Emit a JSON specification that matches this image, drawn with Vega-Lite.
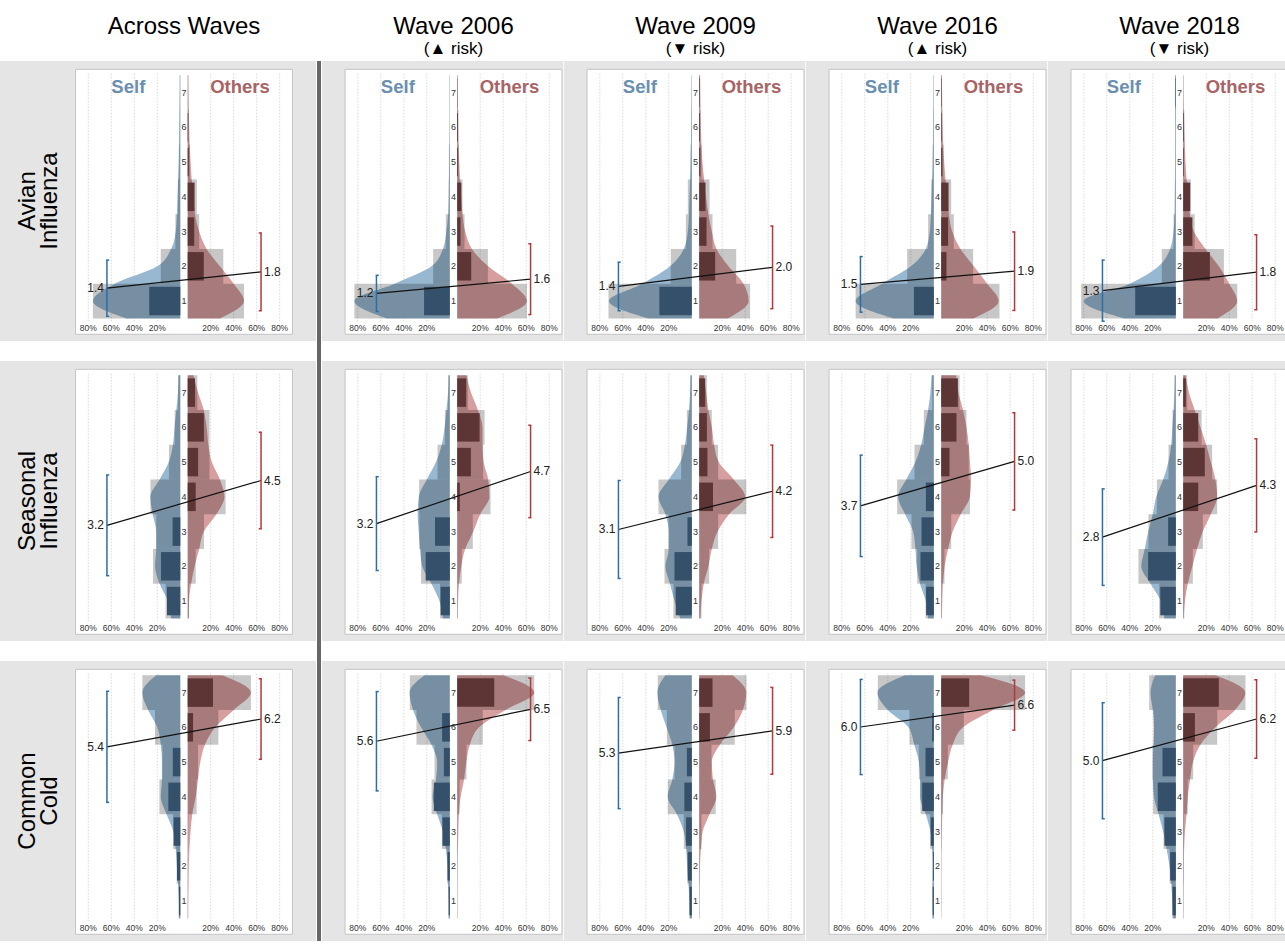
{
"$schema":"https://vega.github.io/schema/vega-lite/v6.json",
"padding":{"top":15,"left":0,"right":0,"bottom":0},
"background":"#ffffff",
"spacing":0,
"config":{"view":{"fill":"#e5e5e5","stroke":null},"font":"Liberation Sans","title":{"fontSize":24,"subtitleFontSize":17,"fontWeight":"normal","anchor":"middle","frame":"group","offset":4,"subtitlePadding":2,"font":"Liberation Sans","subtitleFont":"Liberation Sans","color":"#000000","subtitleColor":"#000000"},"text":{"font":"Liberation Sans"}},
"datasets":{"main":[
{"w":"X","d":"A","k":"m","ms":1.37,"ss":0.81,"mo":1.84,"so":1.12,"lab":"Avian|Influenza"},
{"w":"X","d":"S","k":"m","ms":3.18,"ss":1.45,"mo":4.47,"so":1.39,"lab":"Seasonal|Influenza"},
{"w":"X","d":"C","k":"m","ms":5.44,"ss":1.6,"mo":6.24,"so":1.16,"lab":"Common|Cold"},
{"w":"06","d":"A","k":"m","ms":1.22,"ss":0.52,"mo":1.63,"so":1.02},
{"w":"06","d":"S","k":"m","ms":3.23,"ss":1.35,"mo":4.73,"so":1.33},
{"w":"06","d":"C","k":"m","ms":5.6,"ss":1.43,"mo":6.52,"so":0.9},
{"w":"09","d":"A","k":"m","ms":1.42,"ss":0.7,"mo":1.97,"so":1.19},
{"w":"09","d":"S","k":"m","ms":3.06,"ss":1.41,"mo":4.16,"so":1.33},
{"w":"09","d":"C","k":"m","ms":5.26,"ss":1.6,"mo":5.9,"so":1.25},
{"w":"16","d":"A","k":"m","ms":1.48,"ss":0.8,"mo":1.86,"so":1.13},
{"w":"16","d":"S","k":"m","ms":3.74,"ss":1.46,"mo":5.02,"so":1.4},
{"w":"16","d":"C","k":"m","ms":6.01,"ss":1.37,"mo":6.64,"so":0.72},
{"w":"18","d":"A","k":"m","ms":1.3,"ss":0.88,"mo":1.83,"so":1.08},
{"w":"18","d":"S","k":"m","ms":2.84,"ss":1.39,"mo":4.33,"so":1.34},
{"w":"18","d":"C","k":"m","ms":5.04,"ss":1.67,"mo":6.24,"so":1.13},

{"w":"X","d":"A","k":"b","r":1,"sg":76,"og":49,"sd":27,"od":0},
{"w":"X","d":"A","k":"b","r":2,"sg":17,"og":31,"sd":0,"od":14},
{"w":"X","d":"A","k":"b","r":3,"sg":4.3,"og":10,"sd":0,"od":5.7},
{"w":"X","d":"A","k":"b","r":4,"sg":2,"og":8,"sd":0,"od":6},
{"w":"X","d":"A","k":"b","r":5,"sg":1,"og":2,"sd":0,"od":1},
{"w":"X","d":"A","k":"b","r":6,"sg":0.5,"og":1,"sd":0,"od":0.5},
{"w":"X","d":"A","k":"b","r":7,"sg":0.5,"og":0.5,"sd":0,"od":0},
{"w":"06","d":"A","k":"b","r":1,"sg":83,"og":60.6,"sd":22.4,"od":0},
{"w":"06","d":"A","k":"b","r":2,"sg":14.5,"og":26.7,"sd":0,"od":12.2},
{"w":"06","d":"A","k":"b","r":3,"sg":3.5,"og":6.4,"sd":0,"od":2.9},
{"w":"06","d":"A","k":"b","r":4,"sg":1,"og":4.6,"sd":0,"od":3.6},
{"w":"06","d":"A","k":"b","r":5,"sg":0.8,"og":1.5,"sd":0,"od":0.7},
{"w":"06","d":"A","k":"b","r":6,"sg":0.3,"og":1,"sd":0,"od":0.7},
{"w":"06","d":"A","k":"b","r":7,"sg":0.3,"og":0.5,"sd":0,"od":0.2},
{"w":"09","d":"A","k":"b","r":1,"sg":72.5,"og":44.3,"sd":28.2,"od":0},
{"w":"09","d":"A","k":"b","r":2,"sg":18.3,"og":32.2,"sd":0,"od":13.9},
{"w":"09","d":"A","k":"b","r":3,"sg":5.2,"og":11.6,"sd":0,"od":6.4},
{"w":"09","d":"A","k":"b","r":4,"sg":3.5,"og":9,"sd":0,"od":5.5},
{"w":"09","d":"A","k":"b","r":5,"sg":1,"og":2,"sd":0,"od":1},
{"w":"09","d":"A","k":"b","r":6,"sg":0.5,"og":1.2,"sd":0,"od":0.7},
{"w":"09","d":"A","k":"b","r":7,"sg":0.3,"og":0.8,"sd":0,"od":0.5},
{"w":"16","d":"A","k":"b","r":1,"sg":68,"og":50.7,"sd":17.3,"od":0},
{"w":"16","d":"A","k":"b","r":2,"sg":23.2,"og":27.8,"sd":0,"od":4.6},
{"w":"16","d":"A","k":"b","r":3,"sg":5,"og":11,"sd":0,"od":6},
{"w":"16","d":"A","k":"b","r":4,"sg":2.3,"og":8.7,"sd":0,"od":6.4},
{"w":"16","d":"A","k":"b","r":5,"sg":1,"og":2,"sd":0,"od":1},
{"w":"16","d":"A","k":"b","r":6,"sg":0.5,"og":1,"sd":0,"od":0.5},
{"w":"16","d":"A","k":"b","r":7,"sg":0.3,"og":0.7,"sd":0,"od":0.4},
{"w":"18","d":"A","k":"b","r":1,"sg":82.3,"og":47,"sd":35.3,"od":0},
{"w":"18","d":"A","k":"b","r":2,"sg":12.2,"og":35.4,"sd":0,"od":23.2},
{"w":"18","d":"A","k":"b","r":3,"sg":2,"og":10,"sd":0,"od":8},
{"w":"18","d":"A","k":"b","r":4,"sg":0.6,"og":6.7,"sd":0,"od":6.1},
{"w":"18","d":"A","k":"b","r":5,"sg":0.4,"og":1,"sd":0,"od":0.6},
{"w":"18","d":"A","k":"b","r":6,"sg":0.4,"og":1,"sd":0,"od":0.6},
{"w":"18","d":"A","k":"b","r":7,"sg":0.6,"og":0.2,"sd":0.4,"od":0},
{"w":"X","d":"S","k":"b","r":1,"sg":12.8,"og":1.2,"sd":11.6,"od":0},
{"w":"X","d":"S","k":"b","r":2,"sg":23.8,"og":7,"sd":16.8,"od":0},
{"w":"X","d":"S","k":"b","r":3,"sg":20.9,"og":14.2,"sd":6.7,"od":0},
{"w":"X","d":"S","k":"b","r":4,"sg":26,"og":33,"sd":0,"od":7},
{"w":"X","d":"S","k":"b","r":5,"sg":9.9,"og":19,"sd":0,"od":9.1},
{"w":"X","d":"S","k":"b","r":6,"sg":4.9,"og":19,"sd":0,"od":14.1},
{"w":"X","d":"S","k":"b","r":7,"sg":2,"og":8.4,"sd":0,"od":6.4},
{"w":"06","d":"S","k":"b","r":1,"sg":8.5,"og":0.5,"sd":8,"od":0},
{"w":"06","d":"S","k":"b","r":2,"sg":25,"og":4,"sd":21,"od":0},
{"w":"06","d":"S","k":"b","r":3,"sg":26.5,"og":13.6,"sd":12.9,"od":0},
{"w":"06","d":"S","k":"b","r":4,"sg":26.7,"og":29,"sd":0,"od":2.3},
{"w":"06","d":"S","k":"b","r":5,"sg":10.7,"og":22.6,"sd":0,"od":11.9},
{"w":"06","d":"S","k":"b","r":6,"sg":4.3,"og":23.8,"sd":0,"od":19.5},
{"w":"06","d":"S","k":"b","r":7,"sg":1.5,"og":9.3,"sd":0,"od":7.8},
{"w":"09","d":"S","k":"b","r":1,"sg":16,"og":2,"sd":14,"od":0},
{"w":"09","d":"S","k":"b","r":2,"sg":23.8,"og":8.7,"sd":15.1,"od":0},
{"w":"09","d":"S","k":"b","r":3,"sg":20.3,"og":16.5,"sd":3.8,"od":0},
{"w":"09","d":"S","k":"b","r":4,"sg":29,"og":41,"sd":0,"od":12},
{"w":"09","d":"S","k":"b","r":5,"sg":9.3,"og":16.5,"sd":0,"od":7.2},
{"w":"09","d":"S","k":"b","r":6,"sg":4.3,"og":11,"sd":0,"od":6.7},
{"w":"09","d":"S","k":"b","r":7,"sg":1.5,"og":6.7,"sd":0,"od":5.2},
{"w":"16","d":"S","k":"b","r":1,"sg":7.2,"og":0.5,"sd":6.7,"od":0},
{"w":"16","d":"S","k":"b","r":2,"sg":14.5,"og":2.9,"sd":11.6,"od":0},
{"w":"16","d":"S","k":"b","r":3,"sg":19.4,"og":8.7,"sd":10.7,"od":0},
{"w":"16","d":"S","k":"b","r":4,"sg":31.9,"og":25,"sd":6.9,"od":0},
{"w":"16","d":"S","k":"b","r":5,"sg":16.8,"og":24,"sd":0,"od":7.2},
{"w":"16","d":"S","k":"b","r":6,"sg":8.7,"og":22,"sd":0,"od":13.3},
{"w":"16","d":"S","k":"b","r":7,"sg":1.5,"og":16,"sd":0,"od":14.5},
{"w":"18","d":"S","k":"b","r":1,"sg":14.5,"og":1,"sd":13.5,"od":0},
{"w":"18","d":"S","k":"b","r":2,"sg":32.5,"og":8.4,"sd":24.1,"od":0},
{"w":"18","d":"S","k":"b","r":3,"sg":23.8,"og":17.1,"sd":6.7,"od":0},
{"w":"18","d":"S","k":"b","r":4,"sg":16.5,"og":29.6,"sd":0,"od":13.1},
{"w":"18","d":"S","k":"b","r":5,"sg":6.4,"og":25.2,"sd":0,"od":18.8},
{"w":"18","d":"S","k":"b","r":6,"sg":2.9,"og":16,"sd":0,"od":13.1},
{"w":"18","d":"S","k":"b","r":7,"sg":1.2,"og":3.5,"sd":0,"od":2.3},
{"w":"X","d":"C","k":"b","r":1,"sg":1.5,"og":0.3,"sd":1.2,"od":0},
{"w":"X","d":"C","k":"b","r":2,"sg":3.2,"og":0.3,"sd":2.9,"od":0},
{"w":"X","d":"C","k":"b","r":3,"sg":6.3,"og":0.5,"sd":5.8,"od":0},
{"w":"X","d":"C","k":"b","r":4,"sg":18.2,"og":7.8,"sd":10.4,"od":0},
{"w":"X","d":"C","k":"b","r":5,"sg":15.5,"og":9,"sd":6.5,"od":0},
{"w":"X","d":"C","k":"b","r":6,"sg":22,"og":26.7,"sd":0,"od":4.7},
{"w":"X","d":"C","k":"b","r":7,"sg":33,"og":55,"sd":0,"od":22},
{"w":"06","d":"C","k":"b","r":1,"sg":1.3,"og":0.3,"sd":1,"od":0},
{"w":"06","d":"C","k":"b","r":2,"sg":2.3,"og":0.3,"sd":2,"od":0},
{"w":"06","d":"C","k":"b","r":3,"sg":6.9,"og":0.5,"sd":6.4,"od":0},
{"w":"06","d":"C","k":"b","r":4,"sg":15.9,"og":2,"sd":13.9,"od":0},
{"w":"06","d":"C","k":"b","r":5,"sg":13.3,"og":8.1,"sd":5.2,"od":0},
{"w":"06","d":"C","k":"b","r":6,"sg":29,"og":22.3,"sd":6.7,"od":0},
{"w":"06","d":"C","k":"b","r":7,"sg":34.8,"og":67,"sd":0,"od":32.2},
{"w":"09","d":"C","k":"b","r":1,"sg":2.3,"og":0.3,"sd":2,"od":0},
{"w":"09","d":"C","k":"b","r":2,"sg":4,"og":0.5,"sd":3.5,"od":0},
{"w":"09","d":"C","k":"b","r":3,"sg":7,"og":2,"sd":5,"od":0},
{"w":"09","d":"C","k":"b","r":4,"sg":20.9,"og":14.4,"sd":6.5,"od":0},
{"w":"09","d":"C","k":"b","r":5,"sg":15,"og":10.7,"sd":4.3,"od":0},
{"w":"09","d":"C","k":"b","r":6,"sg":21.7,"og":31,"sd":0,"od":9.3},
{"w":"09","d":"C","k":"b","r":7,"sg":29.6,"og":41.2,"sd":0,"od":11.6},
{"w":"16","d":"C","k":"b","r":1,"sg":1.2,"og":0.2,"sd":1,"od":0},
{"w":"16","d":"C","k":"b","r":2,"sg":1,"og":0.2,"sd":0.8,"od":0},
{"w":"16","d":"C","k":"b","r":3,"sg":3.2,"og":0.5,"sd":2.7,"od":0},
{"w":"16","d":"C","k":"b","r":4,"sg":11.6,"og":1.5,"sd":10.1,"od":0},
{"w":"16","d":"C","k":"b","r":5,"sg":13,"og":5.8,"sd":7.2,"od":0},
{"w":"16","d":"C","k":"b","r":6,"sg":21.2,"og":19.7,"sd":1.5,"od":0},
{"w":"16","d":"C","k":"b","r":7,"sg":48.7,"og":73,"sd":0,"od":24.3},
{"w":"18","d":"C","k":"b","r":1,"sg":3.2,"og":0.3,"sd":2.9,"od":0},
{"w":"18","d":"C","k":"b","r":2,"sg":5.4,"og":0.5,"sd":4.9,"od":0},
{"w":"18","d":"C","k":"b","r":3,"sg":10.7,"og":0.8,"sd":9.9,"od":0},
{"w":"18","d":"C","k":"b","r":4,"sg":19.7,"og":4,"sd":15.7,"od":0},
{"w":"18","d":"C","k":"b","r":5,"sg":20.3,"og":8.7,"sd":11.6,"od":0},
{"w":"18","d":"C","k":"b","r":6,"sg":19.4,"og":29.6,"sd":0,"od":10.2},
{"w":"18","d":"C","k":"b","r":7,"sg":23.2,"og":54.2,"sd":0,"od":31},

{"w":"X","d":"A","k":"n","y":0.5,"s":47,"o":28},{"w":"X","d":"A","k":"n","y":1,"s":76,"o":49},{"w":"X","d":"A","k":"n","y":1.5,"s":57,"o":40},{"w":"X","d":"A","k":"n","y":2,"s":20,"o":28},{"w":"X","d":"A","k":"n","y":2.5,"s":8,"o":16.5},{"w":"X","d":"A","k":"n","y":3,"s":4,"o":10},{"w":"X","d":"A","k":"n","y":3.5,"s":3,"o":6.4},{"w":"X","d":"A","k":"n","y":4,"s":2.5,"o":5},{"w":"X","d":"A","k":"n","y":4.5,"s":2,"o":3.5},{"w":"X","d":"A","k":"n","y":5,"s":1.5,"o":2.5},{"w":"X","d":"A","k":"n","y":5.5,"s":1.2,"o":1.8},{"w":"X","d":"A","k":"n","y":6,"s":1,"o":1.3},{"w":"X","d":"A","k":"n","y":6.5,"s":0.8,"o":1},{"w":"X","d":"A","k":"n","y":7,"s":0.6,"o":0.8},{"w":"X","d":"A","k":"n","y":7.5,"s":0.5,"o":0.6},
{"w":"06","d":"A","k":"n","y":0.5,"s":55,"o":35},{"w":"06","d":"A","k":"n","y":1,"s":83,"o":60.6},{"w":"06","d":"A","k":"n","y":1.5,"s":48,"o":47.5},{"w":"06","d":"A","k":"n","y":2,"s":16,"o":27},{"w":"06","d":"A","k":"n","y":2.5,"s":6,"o":12.8},{"w":"06","d":"A","k":"n","y":3,"s":3,"o":7},{"w":"06","d":"A","k":"n","y":3.5,"s":1.5,"o":4.6},{"w":"06","d":"A","k":"n","y":4,"s":1,"o":3.5},{"w":"06","d":"A","k":"n","y":4.5,"s":0.8,"o":2.5},{"w":"06","d":"A","k":"n","y":5,"s":0.6,"o":1.8},{"w":"06","d":"A","k":"n","y":5.5,"s":0.5,"o":1.2},{"w":"06","d":"A","k":"n","y":6,"s":0.3,"o":1},{"w":"06","d":"A","k":"n","y":6.5,"s":0.3,"o":0.8},{"w":"06","d":"A","k":"n","y":7,"s":0.3,"o":0.6},{"w":"06","d":"A","k":"n","y":7.5,"s":0.3,"o":0.5},
{"w":"09","d":"A","k":"n","y":0.5,"s":38,"o":25},{"w":"09","d":"A","k":"n","y":1,"s":72,"o":43},{"w":"09","d":"A","k":"n","y":1.5,"s":43,"o":38.5},{"w":"09","d":"A","k":"n","y":2,"s":19,"o":25.5},{"w":"09","d":"A","k":"n","y":2.5,"s":7,"o":15},{"w":"09","d":"A","k":"n","y":3,"s":3.5,"o":11},{"w":"09","d":"A","k":"n","y":3.5,"s":2.5,"o":8},{"w":"09","d":"A","k":"n","y":4,"s":2,"o":5.8},{"w":"09","d":"A","k":"n","y":4.5,"s":1.5,"o":4.3},{"w":"09","d":"A","k":"n","y":5,"s":1.2,"o":2.8},{"w":"09","d":"A","k":"n","y":5.5,"s":0.8,"o":2},{"w":"09","d":"A","k":"n","y":6,"s":0.6,"o":1.5},{"w":"09","d":"A","k":"n","y":6.5,"s":0.5,"o":1.2},{"w":"09","d":"A","k":"n","y":7,"s":0.4,"o":1},{"w":"09","d":"A","k":"n","y":7.5,"s":0.3,"o":0.8},
{"w":"16","d":"A","k":"n","y":0.5,"s":35,"o":28},{"w":"16","d":"A","k":"n","y":1,"s":68,"o":50},{"w":"16","d":"A","k":"n","y":1.5,"s":45,"o":40},{"w":"16","d":"A","k":"n","y":2,"s":20,"o":28.4},{"w":"16","d":"A","k":"n","y":2.5,"s":7,"o":16.8},{"w":"16","d":"A","k":"n","y":3,"s":3.5,"o":9.6},{"w":"16","d":"A","k":"n","y":3.5,"s":2.5,"o":6.7},{"w":"16","d":"A","k":"n","y":4,"s":2,"o":5.2},{"w":"16","d":"A","k":"n","y":4.5,"s":1.5,"o":3.8},{"w":"16","d":"A","k":"n","y":5,"s":1,"o":2.6},{"w":"16","d":"A","k":"n","y":5.5,"s":0.8,"o":1.8},{"w":"16","d":"A","k":"n","y":6,"s":0.6,"o":1.3},{"w":"16","d":"A","k":"n","y":6.5,"s":0.5,"o":1},{"w":"16","d":"A","k":"n","y":7,"s":0.4,"o":0.8},{"w":"16","d":"A","k":"n","y":7.5,"s":0.3,"o":0.6},
{"w":"18","d":"A","k":"n","y":0.5,"s":45,"o":30},{"w":"18","d":"A","k":"n","y":1,"s":80,"o":47},{"w":"18","d":"A","k":"n","y":1.5,"s":40,"o":40},{"w":"18","d":"A","k":"n","y":2,"s":15,"o":31},{"w":"18","d":"A","k":"n","y":2.5,"s":5,"o":19.4},{"w":"18","d":"A","k":"n","y":3,"s":2,"o":9.3},{"w":"18","d":"A","k":"n","y":3.5,"s":1.2,"o":5.8},{"w":"18","d":"A","k":"n","y":4,"s":1,"o":4.3},{"w":"18","d":"A","k":"n","y":4.5,"s":0.8,"o":3},{"w":"18","d":"A","k":"n","y":5,"s":0.7,"o":2},{"w":"18","d":"A","k":"n","y":5.5,"s":0.6,"o":1.4},{"w":"18","d":"A","k":"n","y":6,"s":0.6,"o":1},{"w":"18","d":"A","k":"n","y":6.5,"s":0.7,"o":0.7},{"w":"18","d":"A","k":"n","y":7,"s":0.8,"o":0.5},{"w":"18","d":"A","k":"n","y":7.5,"s":0.6,"o":0.4},
{"w":"X","d":"S","k":"n","y":0.5,"s":8,"o":1},{"w":"X","d":"S","k":"n","y":1,"s":10.7,"o":1.2},{"w":"X","d":"S","k":"n","y":1.5,"s":18,"o":3},{"w":"X","d":"S","k":"n","y":2,"s":22,"o":6},{"w":"X","d":"S","k":"n","y":2.5,"s":21,"o":10},{"w":"X","d":"S","k":"n","y":3,"s":21,"o":14},{"w":"X","d":"S","k":"n","y":3.5,"s":24,"o":25},{"w":"X","d":"S","k":"n","y":4,"s":26,"o":32},{"w":"X","d":"S","k":"n","y":4.5,"s":18,"o":28},{"w":"X","d":"S","k":"n","y":5,"s":10,"o":21},{"w":"X","d":"S","k":"n","y":5.5,"s":6.4,"o":18},{"w":"X","d":"S","k":"n","y":6,"s":5,"o":16.5},{"w":"X","d":"S","k":"n","y":6.5,"s":3.5,"o":14},{"w":"X","d":"S","k":"n","y":7,"s":2,"o":9},{"w":"X","d":"S","k":"n","y":7.5,"s":1.5,"o":5},
{"w":"06","d":"S","k":"n","y":0.5,"s":6,"o":0.5},{"w":"06","d":"S","k":"n","y":1,"s":9,"o":0.8},{"w":"06","d":"S","k":"n","y":1.5,"s":16,"o":1.5},{"w":"06","d":"S","k":"n","y":2,"s":24,"o":3.5},{"w":"06","d":"S","k":"n","y":2.5,"s":26,"o":7},{"w":"06","d":"S","k":"n","y":3,"s":27,"o":14},{"w":"06","d":"S","k":"n","y":3.5,"s":28,"o":20},{"w":"06","d":"S","k":"n","y":4,"s":27,"o":28},{"w":"06","d":"S","k":"n","y":4.5,"s":20,"o":27},{"w":"06","d":"S","k":"n","y":5,"s":12,"o":23},{"w":"06","d":"S","k":"n","y":5.5,"s":7,"o":22},{"w":"06","d":"S","k":"n","y":6,"s":4.5,"o":22},{"w":"06","d":"S","k":"n","y":6.5,"s":3,"o":18},{"w":"06","d":"S","k":"n","y":7,"s":1.5,"o":12},{"w":"06","d":"S","k":"n","y":7.5,"s":1,"o":8},
{"w":"09","d":"S","k":"n","y":0.5,"s":10,"o":1},{"w":"09","d":"S","k":"n","y":1,"s":15,"o":2},{"w":"09","d":"S","k":"n","y":1.5,"s":19,"o":4},{"w":"09","d":"S","k":"n","y":2,"s":23,"o":8},{"w":"09","d":"S","k":"n","y":2.5,"s":20,"o":11},{"w":"09","d":"S","k":"n","y":3,"s":20,"o":16},{"w":"09","d":"S","k":"n","y":3.5,"s":23,"o":26},{"w":"09","d":"S","k":"n","y":4,"s":29,"o":40},{"w":"09","d":"S","k":"n","y":4.5,"s":20,"o":30},{"w":"09","d":"S","k":"n","y":5,"s":10,"o":17},{"w":"09","d":"S","k":"n","y":5.5,"s":6,"o":13},{"w":"09","d":"S","k":"n","y":6,"s":4,"o":11},{"w":"09","d":"S","k":"n","y":6.5,"s":2.5,"o":8},{"w":"09","d":"S","k":"n","y":7,"s":1.5,"o":6},{"w":"09","d":"S","k":"n","y":7.5,"s":1,"o":4},
{"w":"16","d":"S","k":"n","y":0.5,"s":5,"o":0.5},{"w":"16","d":"S","k":"n","y":1,"s":7,"o":1},{"w":"16","d":"S","k":"n","y":1.5,"s":12,"o":1.5},{"w":"16","d":"S","k":"n","y":2,"s":15,"o":3},{"w":"16","d":"S","k":"n","y":2.5,"s":16,"o":6},{"w":"16","d":"S","k":"n","y":3,"s":18,"o":10},{"w":"16","d":"S","k":"n","y":3.5,"s":25,"o":17},{"w":"16","d":"S","k":"n","y":4,"s":31,"o":25},{"w":"16","d":"S","k":"n","y":4.5,"s":24,"o":26},{"w":"16","d":"S","k":"n","y":5,"s":16,"o":25},{"w":"16","d":"S","k":"n","y":5.5,"s":11,"o":24},{"w":"16","d":"S","k":"n","y":6,"s":8,"o":22},{"w":"16","d":"S","k":"n","y":6.5,"s":5,"o":19},{"w":"16","d":"S","k":"n","y":7,"s":3,"o":15},{"w":"16","d":"S","k":"n","y":7.5,"s":2,"o":13},
{"w":"18","d":"S","k":"n","y":0.5,"s":10,"o":0.5},{"w":"18","d":"S","k":"n","y":1,"s":13,"o":1.5},{"w":"18","d":"S","k":"n","y":1.5,"s":22,"o":4},{"w":"18","d":"S","k":"n","y":2,"s":30,"o":8},{"w":"18","d":"S","k":"n","y":2.5,"s":27,"o":12},{"w":"18","d":"S","k":"n","y":3,"s":24,"o":17},{"w":"18","d":"S","k":"n","y":3.5,"s":20,"o":24},{"w":"18","d":"S","k":"n","y":4,"s":17,"o":29.5},{"w":"18","d":"S","k":"n","y":4.5,"s":11,"o":28},{"w":"18","d":"S","k":"n","y":5,"s":6.5,"o":24},{"w":"18","d":"S","k":"n","y":5.5,"s":4,"o":20},{"w":"18","d":"S","k":"n","y":6,"s":3,"o":15},{"w":"18","d":"S","k":"n","y":6.5,"s":2,"o":10},{"w":"18","d":"S","k":"n","y":7,"s":1.2,"o":5},{"w":"18","d":"S","k":"n","y":7.5,"s":0.8,"o":2},
{"w":"X","d":"C","k":"n","y":0.5,"s":1,"o":0.5},{"w":"X","d":"C","k":"n","y":1,"s":1.2,"o":0.6},{"w":"X","d":"C","k":"n","y":1.5,"s":2,"o":0.8},{"w":"X","d":"C","k":"n","y":2,"s":3,"o":1},{"w":"X","d":"C","k":"n","y":2.5,"s":4,"o":1.5},{"w":"X","d":"C","k":"n","y":3,"s":6,"o":2.5},{"w":"X","d":"C","k":"n","y":3.5,"s":12,"o":4},{"w":"X","d":"C","k":"n","y":4,"s":17,"o":7},{"w":"X","d":"C","k":"n","y":4.5,"s":16,"o":9},{"w":"X","d":"C","k":"n","y":5,"s":16,"o":11},{"w":"X","d":"C","k":"n","y":5.5,"s":17,"o":15},{"w":"X","d":"C","k":"n","y":6,"s":20,"o":24},{"w":"X","d":"C","k":"n","y":6.5,"s":28,"o":40},{"w":"X","d":"C","k":"n","y":7,"s":33,"o":55},{"w":"X","d":"C","k":"n","y":7.5,"s":21,"o":30},
{"w":"06","d":"C","k":"n","y":0.5,"s":0.8,"o":0.3},{"w":"06","d":"C","k":"n","y":1,"s":1,"o":0.3},{"w":"06","d":"C","k":"n","y":1.5,"s":1.5,"o":0.4},{"w":"06","d":"C","k":"n","y":2,"s":2,"o":0.5},{"w":"06","d":"C","k":"n","y":2.5,"s":3.5,"o":0.7},{"w":"06","d":"C","k":"n","y":3,"s":6,"o":1},{"w":"06","d":"C","k":"n","y":3.5,"s":11,"o":1.5},{"w":"06","d":"C","k":"n","y":4,"s":15,"o":3},{"w":"06","d":"C","k":"n","y":4.5,"s":12,"o":6},{"w":"06","d":"C","k":"n","y":5,"s":11,"o":8},{"w":"06","d":"C","k":"n","y":5.5,"s":16,"o":11},{"w":"06","d":"C","k":"n","y":6,"s":25,"o":19},{"w":"06","d":"C","k":"n","y":6.5,"s":32,"o":42},{"w":"06","d":"C","k":"n","y":7,"s":35,"o":67},{"w":"06","d":"C","k":"n","y":7.5,"s":22,"o":40},
{"w":"09","d":"C","k":"n","y":0.5,"s":1.5,"o":0.3},{"w":"09","d":"C","k":"n","y":1,"s":2,"o":0.4},{"w":"09","d":"C","k":"n","y":1.5,"s":3,"o":0.5},{"w":"09","d":"C","k":"n","y":2,"s":4,"o":0.7},{"w":"09","d":"C","k":"n","y":2.5,"s":5,"o":1.5},{"w":"09","d":"C","k":"n","y":3,"s":7,"o":3},{"w":"09","d":"C","k":"n","y":3.5,"s":13,"o":9},{"w":"09","d":"C","k":"n","y":4,"s":21,"o":15},{"w":"09","d":"C","k":"n","y":4.5,"s":17,"o":12},{"w":"09","d":"C","k":"n","y":5,"s":15,"o":11},{"w":"09","d":"C","k":"n","y":5.5,"s":17,"o":18},{"w":"09","d":"C","k":"n","y":6,"s":22,"o":30},{"w":"09","d":"C","k":"n","y":6.5,"s":27,"o":38},{"w":"09","d":"C","k":"n","y":7,"s":30,"o":41},{"w":"09","d":"C","k":"n","y":7.5,"s":23,"o":29},
{"w":"16","d":"C","k":"n","y":0.5,"s":1,"o":0.2},{"w":"16","d":"C","k":"n","y":1,"s":1.2,"o":0.3},{"w":"16","d":"C","k":"n","y":1.5,"s":1.2,"o":0.3},{"w":"16","d":"C","k":"n","y":2,"s":1,"o":0.3},{"w":"16","d":"C","k":"n","y":2.5,"s":1.5,"o":0.4},{"w":"16","d":"C","k":"n","y":3,"s":3,"o":0.6},{"w":"16","d":"C","k":"n","y":3.5,"s":7,"o":1},{"w":"16","d":"C","k":"n","y":4,"s":12,"o":1.5},{"w":"16","d":"C","k":"n","y":4.5,"s":12,"o":3},{"w":"16","d":"C","k":"n","y":5,"s":13,"o":6},{"w":"16","d":"C","k":"n","y":5.5,"s":17,"o":10},{"w":"16","d":"C","k":"n","y":6,"s":22,"o":19},{"w":"16","d":"C","k":"n","y":6.5,"s":40,"o":45},{"w":"16","d":"C","k":"n","y":7,"s":49,"o":73},{"w":"16","d":"C","k":"n","y":7.5,"s":25,"o":35},
{"w":"18","d":"C","k":"n","y":0.5,"s":2,"o":0.3},{"w":"18","d":"C","k":"n","y":1,"s":3,"o":0.4},{"w":"18","d":"C","k":"n","y":1.5,"s":4,"o":0.5},{"w":"18","d":"C","k":"n","y":2,"s":5.5,"o":0.6},{"w":"18","d":"C","k":"n","y":2.5,"s":8,"o":0.8},{"w":"18","d":"C","k":"n","y":3,"s":11,"o":1.5},{"w":"18","d":"C","k":"n","y":3.5,"s":15,"o":3},{"w":"18","d":"C","k":"n","y":4,"s":19,"o":4},{"w":"18","d":"C","k":"n","y":4.5,"s":20,"o":6},{"w":"18","d":"C","k":"n","y":5,"s":20,"o":8.5},{"w":"18","d":"C","k":"n","y":5.5,"s":19.5,"o":15},{"w":"18","d":"C","k":"n","y":6,"s":19,"o":28},{"w":"18","d":"C","k":"n","y":6.5,"s":20,"o":45},{"w":"18","d":"C","k":"n","y":7,"s":22,"o":54},{"w":"18","d":"C","k":"n","y":7.5,"s":18,"o":28}
]},
"hconcat":[
{"data":{"name":"main"},"transform":[{"filter":"datum.w=='X'"}],
 "title":{"text":"Across Waves","subtitle":"\u200b","dx":184,"anchor":"middle","frame":"group"},
 "facet":{"row":{"field":"d","type":"nominal","sort":["A","S","C"],"header":null}},
 "spacing":{"row":20},
 "spec":{"width":316,"height":280,"layer":[
  {"transform":[{"filter":"datum.k=='m'"}],"mark":{"type":"rect","fill":"#ffffff","stroke":"#c4c4c4","strokeWidth":1},"encoding":{"x":{"datum":-0.943,"type":"quantitative","scale":{"domain":[-1.6,1.148],"nice":false,"zero":false},"axis":null},"x2":{"datum":0.943},"y":{"datum":0.043,"type":"quantitative","scale":{"domain":[-0.15,7.91],"nice":false,"zero":false},"axis":null},"y2":{"datum":7.67}}},
  {"transform":[{"filter":"datum.k=='m'"},{"calculate":"[-0.832,-0.632,-0.432,-0.232,0.232,0.432,0.632,0.832]","as":"gx"},{"flatten":["gx"]}],"mark":{"type":"rule","color":"#cfcfcf","strokeDash":[1.5,1.5],"strokeWidth":0.8},"encoding":{"x":{"field":"gx","type":"quantitative","axis":null},"y":{"datum":0.42,"type":"quantitative","axis":null},"y2":{"datum":7.55}}},
  {"transform":[{"filter":"datum.k=='m'"},{"calculate":"[-0.832,-0.632,-0.432,-0.232,0.232,0.432,0.632,0.832]","as":"gx"},{"flatten":["gx"]},{"calculate":"format(abs(datum.gx)-0.032,'.0%')","as":"pl"}],"mark":{"type":"text","fontSize":8.5,"color":"#333333"},"encoding":{"x":{"field":"gx","type":"quantitative","axis":null},"y":{"datum":0.23,"type":"quantitative","axis":null},"text":{"field":"pl","type":"nominal"}}},
  {"transform":[{"filter":"datum.k=='n'"},{"calculate":"-0.032-datum.s/100","as":"xv"}],"mark":{"type":"area","orient":"horizontal","interpolate":"monotone","color":"#98b8d1"},"encoding":{"y":{"field":"y","type":"quantitative","axis":null},"x":{"field":"xv","type":"quantitative","axis":null},"x2":{"datum":-0.032}}},
  {"transform":[{"filter":"datum.k=='n'"},{"calculate":"0.032+datum.o/100","as":"xv"}],"mark":{"type":"area","orient":"horizontal","interpolate":"monotone","color":"#d69e9e"},"encoding":{"y":{"field":"y","type":"quantitative","axis":null},"x":{"field":"xv","type":"quantitative","axis":null},"x2":{"datum":0.032}}},
  {"transform":[{"filter":"datum.k=='b'"},{"calculate":"-0.032-datum.sg/100","as":"xv"},{"calculate":"datum.r-0.5","as":"ya"},{"calculate":"datum.r+0.5","as":"yb"}],"mark":{"type":"rect","color":"#000000","opacity":0.22},"encoding":{"x":{"field":"xv","type":"quantitative","axis":null},"x2":{"datum":-0.032},"y":{"field":"ya","type":"quantitative","axis":null},"y2":{"field":"yb"}}},
  {"transform":[{"filter":"datum.k=='b'"},{"calculate":"0.032+datum.og/100","as":"xv"},{"calculate":"datum.r-0.5","as":"ya"},{"calculate":"datum.r+0.5","as":"yb"}],"mark":{"type":"rect","color":"#000000","opacity":0.22},"encoding":{"x":{"field":"xv","type":"quantitative","axis":null},"x2":{"datum":0.032},"y":{"field":"ya","type":"quantitative","axis":null},"y2":{"field":"yb"}}},
  {"transform":[{"filter":"datum.k=='b'"},{"calculate":"-0.032-datum.sd/100","as":"xv"},{"calculate":"datum.r-0.41","as":"ya"},{"calculate":"datum.r+0.41","as":"yb"}],"mark":{"type":"rect","color":"#34506a"},"encoding":{"x":{"field":"xv","type":"quantitative","axis":null},"x2":{"datum":-0.032},"y":{"field":"ya","type":"quantitative","axis":null},"y2":{"field":"yb"}}},
  {"transform":[{"filter":"datum.k=='b'"},{"calculate":"0.032+datum.od/100","as":"xv"},{"calculate":"datum.r-0.41","as":"ya"},{"calculate":"datum.r+0.41","as":"yb"}],"mark":{"type":"rect","color":"#5e3535"},"encoding":{"x":{"field":"xv","type":"quantitative","axis":null},"x2":{"datum":0.032},"y":{"field":"ya","type":"quantitative","axis":null},"y2":{"field":"yb"}}},
  {"transform":[{"filter":"datum.k=='m'"}],"mark":{"type":"rule","color":"#111111","strokeWidth":1.2},"encoding":{"x":{"datum":-0.67,"type":"quantitative","axis":null},"x2":{"datum":0.67},"y":{"field":"ms","type":"quantitative","axis":null},"y2":{"field":"mo"}}},
  {"transform":[{"filter":"datum.k=='m'"},{"calculate":"datum.ms-datum.ss","as":"ya"},{"calculate":"datum.ms+datum.ss","as":"yb"}],"mark":{"type":"rule","color":"#2c6ea6","strokeWidth":1.5},"encoding":{"x":{"datum":-0.67,"type":"quantitative","axis":null},"y":{"field":"ya","type":"quantitative","axis":null},"y2":{"field":"yb"}}},
  {"transform":[{"filter":"datum.k=='m'"},{"calculate":"datum.ms-datum.ss","as":"ya"},{"calculate":"datum.ms+datum.ss","as":"yb"},{"fold":["ya","yb"]}],"mark":{"type":"rule","color":"#2c6ea6","strokeWidth":1.5},"encoding":{"x":{"datum":-0.677,"type":"quantitative","axis":null},"x2":{"datum":-0.65},"y":{"field":"value","type":"quantitative","axis":null}}},
  {"transform":[{"filter":"datum.k=='m'"},{"calculate":"datum.mo-datum.so","as":"ya"},{"calculate":"datum.mo+datum.so","as":"yb"}],"mark":{"type":"rule","color":"#b2393b","strokeWidth":1.5},"encoding":{"x":{"datum":0.67,"type":"quantitative","axis":null},"y":{"field":"ya","type":"quantitative","axis":null},"y2":{"field":"yb"}}},
  {"transform":[{"filter":"datum.k=='m'"},{"calculate":"datum.mo-datum.so","as":"ya"},{"calculate":"datum.mo+datum.so","as":"yb"},{"fold":["ya","yb"]}],"mark":{"type":"rule","color":"#b2393b","strokeWidth":1.5},"encoding":{"x":{"datum":0.677,"type":"quantitative","axis":null},"x2":{"datum":0.65},"y":{"field":"value","type":"quantitative","axis":null}}},
  {"transform":[{"filter":"datum.k=='m'"}],"mark":{"type":"text","align":"right","dx":-3,"fontSize":12,"color":"#222222"},"encoding":{"x":{"datum":-0.67,"type":"quantitative","axis":null},"y":{"field":"ms","type":"quantitative","axis":null},"text":{"field":"ms","type":"quantitative","format":".1f"}}},
  {"transform":[{"filter":"datum.k=='m'"}],"mark":{"type":"text","align":"left","dx":3,"fontSize":12,"color":"#222222"},"encoding":{"x":{"datum":0.67,"type":"quantitative","axis":null},"y":{"field":"mo","type":"quantitative","axis":null},"text":{"field":"mo","type":"quantitative","format":".1f"}}},
  {"transform":[{"filter":"datum.k=='b'"}],"mark":{"type":"text","fontSize":9,"color":"#333333"},"encoding":{"x":{"datum":0,"type":"quantitative","axis":null},"y":{"field":"r","type":"quantitative","axis":null},"text":{"field":"r","type":"nominal"}}},
  {"transform":[{"filter":"datum.k=='m' && datum.d=='A'"}],"mark":{"type":"text","fontSize":18.5,"fontWeight":"bold","color":"#6a8fb0"},"encoding":{"x":{"datum":-0.484,"type":"quantitative","axis":null},"y":{"datum":7.15,"type":"quantitative","axis":null},"text":{"value":"Self"}}},
  {"transform":[{"filter":"datum.k=='m' && datum.d=='A'"}],"mark":{"type":"text","fontSize":18.5,"fontWeight":"bold","color":"#a86464"},"encoding":{"x":{"datum":0.487,"type":"quantitative","axis":null},"y":{"datum":7.15,"type":"quantitative","axis":null},"text":{"value":"Others"}}},
  {"transform":[{"filter":"datum.k=='m'"}],"mark":{"type":"text","angle":270,"fontSize":24,"lineBreak":"|","lineHeight":22,"color":"#000000"},"encoding":{"x":{"datum":-1.357,"type":"quantitative","axis":null},"y":{"datum":3.88,"type":"quantitative","axis":null},"text":{"field":"lab","type":"nominal"}}}
 ]}},
{"title":{"text":"\u200b","subtitle":"\u200b","anchor":"middle","frame":"group"},"width":4,"height":880,"data":{"values":[{}]},"mark":{"type":"point","opacity":0},"view":{"fill":"#676767","stroke":null}},
{"data":{"name":"main"},"transform":[{"filter":"datum.w=='06'"}],
 "title":{"text":"Wave 2006","subtitle":"(▲ risk)","dx":131.5,"anchor":"middle","frame":"group"},
 "facet":{"row":{"field":"d","type":"nominal","sort":["A","S","C"],"header":null}},
 "spacing":{"row":20},
 "spec":{"width":241.25,"height":280,"layer":[
  {"transform":[{"filter":"datum.k=='m'"}],"mark":{"type":"rect","fill":"#ffffff","stroke":"#c4c4c4","strokeWidth":1},"encoding":{"x":{"datum":-0.943,"type":"quantitative","scale":{"domain":[-1.1435,0.9543],"nice":false,"zero":false},"axis":null},"x2":{"datum":0.943},"y":{"datum":0.043,"type":"quantitative","scale":{"domain":[-0.15,7.91],"nice":false,"zero":false},"axis":null},"y2":{"datum":7.67}}},
  {"transform":[{"filter":"datum.k=='m'"},{"calculate":"[-0.832,-0.632,-0.432,-0.232,0.232,0.432,0.632,0.832]","as":"gx"},{"flatten":["gx"]}],"mark":{"type":"rule","color":"#cfcfcf","strokeDash":[1.5,1.5],"strokeWidth":0.8},"encoding":{"x":{"field":"gx","type":"quantitative","axis":null},"y":{"datum":0.42,"type":"quantitative","axis":null},"y2":{"datum":7.55}}},
  {"transform":[{"filter":"datum.k=='m'"},{"calculate":"[-0.832,-0.632,-0.432,-0.232,0.232,0.432,0.632,0.832]","as":"gx"},{"flatten":["gx"]},{"calculate":"format(abs(datum.gx)-0.032,'.0%')","as":"pl"}],"mark":{"type":"text","fontSize":8.5,"color":"#333333"},"encoding":{"x":{"field":"gx","type":"quantitative","axis":null},"y":{"datum":0.23,"type":"quantitative","axis":null},"text":{"field":"pl","type":"nominal"}}},
  {"transform":[{"filter":"datum.k=='n'"},{"calculate":"-0.032-datum.s/100","as":"xv"}],"mark":{"type":"area","orient":"horizontal","interpolate":"monotone","color":"#98b8d1"},"encoding":{"y":{"field":"y","type":"quantitative","axis":null},"x":{"field":"xv","type":"quantitative","axis":null},"x2":{"datum":-0.032}}},
  {"transform":[{"filter":"datum.k=='n'"},{"calculate":"0.032+datum.o/100","as":"xv"}],"mark":{"type":"area","orient":"horizontal","interpolate":"monotone","color":"#d69e9e"},"encoding":{"y":{"field":"y","type":"quantitative","axis":null},"x":{"field":"xv","type":"quantitative","axis":null},"x2":{"datum":0.032}}},
  {"transform":[{"filter":"datum.k=='b'"},{"calculate":"-0.032-datum.sg/100","as":"xv"},{"calculate":"datum.r-0.5","as":"ya"},{"calculate":"datum.r+0.5","as":"yb"}],"mark":{"type":"rect","color":"#000000","opacity":0.22},"encoding":{"x":{"field":"xv","type":"quantitative","axis":null},"x2":{"datum":-0.032},"y":{"field":"ya","type":"quantitative","axis":null},"y2":{"field":"yb"}}},
  {"transform":[{"filter":"datum.k=='b'"},{"calculate":"0.032+datum.og/100","as":"xv"},{"calculate":"datum.r-0.5","as":"ya"},{"calculate":"datum.r+0.5","as":"yb"}],"mark":{"type":"rect","color":"#000000","opacity":0.22},"encoding":{"x":{"field":"xv","type":"quantitative","axis":null},"x2":{"datum":0.032},"y":{"field":"ya","type":"quantitative","axis":null},"y2":{"field":"yb"}}},
  {"transform":[{"filter":"datum.k=='b'"},{"calculate":"-0.032-datum.sd/100","as":"xv"},{"calculate":"datum.r-0.41","as":"ya"},{"calculate":"datum.r+0.41","as":"yb"}],"mark":{"type":"rect","color":"#34506a"},"encoding":{"x":{"field":"xv","type":"quantitative","axis":null},"x2":{"datum":-0.032},"y":{"field":"ya","type":"quantitative","axis":null},"y2":{"field":"yb"}}},
  {"transform":[{"filter":"datum.k=='b'"},{"calculate":"0.032+datum.od/100","as":"xv"},{"calculate":"datum.r-0.41","as":"ya"},{"calculate":"datum.r+0.41","as":"yb"}],"mark":{"type":"rect","color":"#5e3535"},"encoding":{"x":{"field":"xv","type":"quantitative","axis":null},"x2":{"datum":0.032},"y":{"field":"ya","type":"quantitative","axis":null},"y2":{"field":"yb"}}},
  {"transform":[{"filter":"datum.k=='m'"}],"mark":{"type":"rule","color":"#111111","strokeWidth":1.2},"encoding":{"x":{"datum":-0.67,"type":"quantitative","axis":null},"x2":{"datum":0.67},"y":{"field":"ms","type":"quantitative","axis":null},"y2":{"field":"mo"}}},
  {"transform":[{"filter":"datum.k=='m'"},{"calculate":"datum.ms-datum.ss","as":"ya"},{"calculate":"datum.ms+datum.ss","as":"yb"}],"mark":{"type":"rule","color":"#2c6ea6","strokeWidth":1.5},"encoding":{"x":{"datum":-0.67,"type":"quantitative","axis":null},"y":{"field":"ya","type":"quantitative","axis":null},"y2":{"field":"yb"}}},
  {"transform":[{"filter":"datum.k=='m'"},{"calculate":"datum.ms-datum.ss","as":"ya"},{"calculate":"datum.ms+datum.ss","as":"yb"},{"fold":["ya","yb"]}],"mark":{"type":"rule","color":"#2c6ea6","strokeWidth":1.5},"encoding":{"x":{"datum":-0.677,"type":"quantitative","axis":null},"x2":{"datum":-0.65},"y":{"field":"value","type":"quantitative","axis":null}}},
  {"transform":[{"filter":"datum.k=='m'"},{"calculate":"datum.mo-datum.so","as":"ya"},{"calculate":"datum.mo+datum.so","as":"yb"}],"mark":{"type":"rule","color":"#b2393b","strokeWidth":1.5},"encoding":{"x":{"datum":0.67,"type":"quantitative","axis":null},"y":{"field":"ya","type":"quantitative","axis":null},"y2":{"field":"yb"}}},
  {"transform":[{"filter":"datum.k=='m'"},{"calculate":"datum.mo-datum.so","as":"ya"},{"calculate":"datum.mo+datum.so","as":"yb"},{"fold":["ya","yb"]}],"mark":{"type":"rule","color":"#b2393b","strokeWidth":1.5},"encoding":{"x":{"datum":0.677,"type":"quantitative","axis":null},"x2":{"datum":0.65},"y":{"field":"value","type":"quantitative","axis":null}}},
  {"transform":[{"filter":"datum.k=='m'"}],"mark":{"type":"text","align":"right","dx":-3,"fontSize":12,"color":"#222222"},"encoding":{"x":{"datum":-0.67,"type":"quantitative","axis":null},"y":{"field":"ms","type":"quantitative","axis":null},"text":{"field":"ms","type":"quantitative","format":".1f"}}},
  {"transform":[{"filter":"datum.k=='m'"}],"mark":{"type":"text","align":"left","dx":3,"fontSize":12,"color":"#222222"},"encoding":{"x":{"datum":0.67,"type":"quantitative","axis":null},"y":{"field":"mo","type":"quantitative","axis":null},"text":{"field":"mo","type":"quantitative","format":".1f"}}},
  {"transform":[{"filter":"datum.k=='b'"}],"mark":{"type":"text","fontSize":9,"color":"#333333"},"encoding":{"x":{"datum":0,"type":"quantitative","axis":null},"y":{"field":"r","type":"quantitative","axis":null},"text":{"field":"r","type":"nominal"}}},
  {"transform":[{"filter":"datum.k=='m' && datum.d=='A'"}],"mark":{"type":"text","fontSize":18.5,"fontWeight":"bold","color":"#6a8fb0"},"encoding":{"x":{"datum":-0.484,"type":"quantitative","axis":null},"y":{"datum":7.15,"type":"quantitative","axis":null},"text":{"value":"Self"}}},
  {"transform":[{"filter":"datum.k=='m' && datum.d=='A'"}],"mark":{"type":"text","fontSize":18.5,"fontWeight":"bold","color":"#a86464"},"encoding":{"x":{"datum":0.487,"type":"quantitative","axis":null},"y":{"datum":7.15,"type":"quantitative","axis":null},"text":{"value":"Others"}}}
 ]}},
{"data":{"name":"main"},"transform":[{"filter":"datum.w=='09'"}],
 "title":{"text":"Wave 2009","subtitle":"(▼ risk)","dx":131.5,"anchor":"middle","frame":"group"},
 "facet":{"row":{"field":"d","type":"nominal","sort":["A","S","C"],"header":null}},
 "spacing":{"row":20},
 "spec":{"width":241.25,"height":280,"layer":[
  {"transform":[{"filter":"datum.k=='m'"}],"mark":{"type":"rect","fill":"#ffffff","stroke":"#c4c4c4","strokeWidth":1},"encoding":{"x":{"datum":-0.943,"type":"quantitative","scale":{"domain":[-1.1435,0.9543],"nice":false,"zero":false},"axis":null},"x2":{"datum":0.943},"y":{"datum":0.043,"type":"quantitative","scale":{"domain":[-0.15,7.91],"nice":false,"zero":false},"axis":null},"y2":{"datum":7.67}}},
  {"transform":[{"filter":"datum.k=='m'"},{"calculate":"[-0.832,-0.632,-0.432,-0.232,0.232,0.432,0.632,0.832]","as":"gx"},{"flatten":["gx"]}],"mark":{"type":"rule","color":"#cfcfcf","strokeDash":[1.5,1.5],"strokeWidth":0.8},"encoding":{"x":{"field":"gx","type":"quantitative","axis":null},"y":{"datum":0.42,"type":"quantitative","axis":null},"y2":{"datum":7.55}}},
  {"transform":[{"filter":"datum.k=='m'"},{"calculate":"[-0.832,-0.632,-0.432,-0.232,0.232,0.432,0.632,0.832]","as":"gx"},{"flatten":["gx"]},{"calculate":"format(abs(datum.gx)-0.032,'.0%')","as":"pl"}],"mark":{"type":"text","fontSize":8.5,"color":"#333333"},"encoding":{"x":{"field":"gx","type":"quantitative","axis":null},"y":{"datum":0.23,"type":"quantitative","axis":null},"text":{"field":"pl","type":"nominal"}}},
  {"transform":[{"filter":"datum.k=='n'"},{"calculate":"-0.032-datum.s/100","as":"xv"}],"mark":{"type":"area","orient":"horizontal","interpolate":"monotone","color":"#98b8d1"},"encoding":{"y":{"field":"y","type":"quantitative","axis":null},"x":{"field":"xv","type":"quantitative","axis":null},"x2":{"datum":-0.032}}},
  {"transform":[{"filter":"datum.k=='n'"},{"calculate":"0.032+datum.o/100","as":"xv"}],"mark":{"type":"area","orient":"horizontal","interpolate":"monotone","color":"#d69e9e"},"encoding":{"y":{"field":"y","type":"quantitative","axis":null},"x":{"field":"xv","type":"quantitative","axis":null},"x2":{"datum":0.032}}},
  {"transform":[{"filter":"datum.k=='b'"},{"calculate":"-0.032-datum.sg/100","as":"xv"},{"calculate":"datum.r-0.5","as":"ya"},{"calculate":"datum.r+0.5","as":"yb"}],"mark":{"type":"rect","color":"#000000","opacity":0.22},"encoding":{"x":{"field":"xv","type":"quantitative","axis":null},"x2":{"datum":-0.032},"y":{"field":"ya","type":"quantitative","axis":null},"y2":{"field":"yb"}}},
  {"transform":[{"filter":"datum.k=='b'"},{"calculate":"0.032+datum.og/100","as":"xv"},{"calculate":"datum.r-0.5","as":"ya"},{"calculate":"datum.r+0.5","as":"yb"}],"mark":{"type":"rect","color":"#000000","opacity":0.22},"encoding":{"x":{"field":"xv","type":"quantitative","axis":null},"x2":{"datum":0.032},"y":{"field":"ya","type":"quantitative","axis":null},"y2":{"field":"yb"}}},
  {"transform":[{"filter":"datum.k=='b'"},{"calculate":"-0.032-datum.sd/100","as":"xv"},{"calculate":"datum.r-0.41","as":"ya"},{"calculate":"datum.r+0.41","as":"yb"}],"mark":{"type":"rect","color":"#34506a"},"encoding":{"x":{"field":"xv","type":"quantitative","axis":null},"x2":{"datum":-0.032},"y":{"field":"ya","type":"quantitative","axis":null},"y2":{"field":"yb"}}},
  {"transform":[{"filter":"datum.k=='b'"},{"calculate":"0.032+datum.od/100","as":"xv"},{"calculate":"datum.r-0.41","as":"ya"},{"calculate":"datum.r+0.41","as":"yb"}],"mark":{"type":"rect","color":"#5e3535"},"encoding":{"x":{"field":"xv","type":"quantitative","axis":null},"x2":{"datum":0.032},"y":{"field":"ya","type":"quantitative","axis":null},"y2":{"field":"yb"}}},
  {"transform":[{"filter":"datum.k=='m'"}],"mark":{"type":"rule","color":"#111111","strokeWidth":1.2},"encoding":{"x":{"datum":-0.67,"type":"quantitative","axis":null},"x2":{"datum":0.67},"y":{"field":"ms","type":"quantitative","axis":null},"y2":{"field":"mo"}}},
  {"transform":[{"filter":"datum.k=='m'"},{"calculate":"datum.ms-datum.ss","as":"ya"},{"calculate":"datum.ms+datum.ss","as":"yb"}],"mark":{"type":"rule","color":"#2c6ea6","strokeWidth":1.5},"encoding":{"x":{"datum":-0.67,"type":"quantitative","axis":null},"y":{"field":"ya","type":"quantitative","axis":null},"y2":{"field":"yb"}}},
  {"transform":[{"filter":"datum.k=='m'"},{"calculate":"datum.ms-datum.ss","as":"ya"},{"calculate":"datum.ms+datum.ss","as":"yb"},{"fold":["ya","yb"]}],"mark":{"type":"rule","color":"#2c6ea6","strokeWidth":1.5},"encoding":{"x":{"datum":-0.677,"type":"quantitative","axis":null},"x2":{"datum":-0.65},"y":{"field":"value","type":"quantitative","axis":null}}},
  {"transform":[{"filter":"datum.k=='m'"},{"calculate":"datum.mo-datum.so","as":"ya"},{"calculate":"datum.mo+datum.so","as":"yb"}],"mark":{"type":"rule","color":"#b2393b","strokeWidth":1.5},"encoding":{"x":{"datum":0.67,"type":"quantitative","axis":null},"y":{"field":"ya","type":"quantitative","axis":null},"y2":{"field":"yb"}}},
  {"transform":[{"filter":"datum.k=='m'"},{"calculate":"datum.mo-datum.so","as":"ya"},{"calculate":"datum.mo+datum.so","as":"yb"},{"fold":["ya","yb"]}],"mark":{"type":"rule","color":"#b2393b","strokeWidth":1.5},"encoding":{"x":{"datum":0.677,"type":"quantitative","axis":null},"x2":{"datum":0.65},"y":{"field":"value","type":"quantitative","axis":null}}},
  {"transform":[{"filter":"datum.k=='m'"}],"mark":{"type":"text","align":"right","dx":-3,"fontSize":12,"color":"#222222"},"encoding":{"x":{"datum":-0.67,"type":"quantitative","axis":null},"y":{"field":"ms","type":"quantitative","axis":null},"text":{"field":"ms","type":"quantitative","format":".1f"}}},
  {"transform":[{"filter":"datum.k=='m'"}],"mark":{"type":"text","align":"left","dx":3,"fontSize":12,"color":"#222222"},"encoding":{"x":{"datum":0.67,"type":"quantitative","axis":null},"y":{"field":"mo","type":"quantitative","axis":null},"text":{"field":"mo","type":"quantitative","format":".1f"}}},
  {"transform":[{"filter":"datum.k=='b'"}],"mark":{"type":"text","fontSize":9,"color":"#333333"},"encoding":{"x":{"datum":0,"type":"quantitative","axis":null},"y":{"field":"r","type":"quantitative","axis":null},"text":{"field":"r","type":"nominal"}}},
  {"transform":[{"filter":"datum.k=='m' && datum.d=='A'"}],"mark":{"type":"text","fontSize":18.5,"fontWeight":"bold","color":"#6a8fb0"},"encoding":{"x":{"datum":-0.484,"type":"quantitative","axis":null},"y":{"datum":7.15,"type":"quantitative","axis":null},"text":{"value":"Self"}}},
  {"transform":[{"filter":"datum.k=='m' && datum.d=='A'"}],"mark":{"type":"text","fontSize":18.5,"fontWeight":"bold","color":"#a86464"},"encoding":{"x":{"datum":0.487,"type":"quantitative","axis":null},"y":{"datum":7.15,"type":"quantitative","axis":null},"text":{"value":"Others"}}}
 ]}},
{"data":{"name":"main"},"transform":[{"filter":"datum.w=='16'"}],
 "title":{"text":"Wave 2016","subtitle":"(▲ risk)","dx":131.5,"anchor":"middle","frame":"group"},
 "facet":{"row":{"field":"d","type":"nominal","sort":["A","S","C"],"header":null}},
 "spacing":{"row":20},
 "spec":{"width":241.25,"height":280,"layer":[
  {"transform":[{"filter":"datum.k=='m'"}],"mark":{"type":"rect","fill":"#ffffff","stroke":"#c4c4c4","strokeWidth":1},"encoding":{"x":{"datum":-0.943,"type":"quantitative","scale":{"domain":[-1.1435,0.9543],"nice":false,"zero":false},"axis":null},"x2":{"datum":0.943},"y":{"datum":0.043,"type":"quantitative","scale":{"domain":[-0.15,7.91],"nice":false,"zero":false},"axis":null},"y2":{"datum":7.67}}},
  {"transform":[{"filter":"datum.k=='m'"},{"calculate":"[-0.832,-0.632,-0.432,-0.232,0.232,0.432,0.632,0.832]","as":"gx"},{"flatten":["gx"]}],"mark":{"type":"rule","color":"#cfcfcf","strokeDash":[1.5,1.5],"strokeWidth":0.8},"encoding":{"x":{"field":"gx","type":"quantitative","axis":null},"y":{"datum":0.42,"type":"quantitative","axis":null},"y2":{"datum":7.55}}},
  {"transform":[{"filter":"datum.k=='m'"},{"calculate":"[-0.832,-0.632,-0.432,-0.232,0.232,0.432,0.632,0.832]","as":"gx"},{"flatten":["gx"]},{"calculate":"format(abs(datum.gx)-0.032,'.0%')","as":"pl"}],"mark":{"type":"text","fontSize":8.5,"color":"#333333"},"encoding":{"x":{"field":"gx","type":"quantitative","axis":null},"y":{"datum":0.23,"type":"quantitative","axis":null},"text":{"field":"pl","type":"nominal"}}},
  {"transform":[{"filter":"datum.k=='n'"},{"calculate":"-0.032-datum.s/100","as":"xv"}],"mark":{"type":"area","orient":"horizontal","interpolate":"monotone","color":"#98b8d1"},"encoding":{"y":{"field":"y","type":"quantitative","axis":null},"x":{"field":"xv","type":"quantitative","axis":null},"x2":{"datum":-0.032}}},
  {"transform":[{"filter":"datum.k=='n'"},{"calculate":"0.032+datum.o/100","as":"xv"}],"mark":{"type":"area","orient":"horizontal","interpolate":"monotone","color":"#d69e9e"},"encoding":{"y":{"field":"y","type":"quantitative","axis":null},"x":{"field":"xv","type":"quantitative","axis":null},"x2":{"datum":0.032}}},
  {"transform":[{"filter":"datum.k=='b'"},{"calculate":"-0.032-datum.sg/100","as":"xv"},{"calculate":"datum.r-0.5","as":"ya"},{"calculate":"datum.r+0.5","as":"yb"}],"mark":{"type":"rect","color":"#000000","opacity":0.22},"encoding":{"x":{"field":"xv","type":"quantitative","axis":null},"x2":{"datum":-0.032},"y":{"field":"ya","type":"quantitative","axis":null},"y2":{"field":"yb"}}},
  {"transform":[{"filter":"datum.k=='b'"},{"calculate":"0.032+datum.og/100","as":"xv"},{"calculate":"datum.r-0.5","as":"ya"},{"calculate":"datum.r+0.5","as":"yb"}],"mark":{"type":"rect","color":"#000000","opacity":0.22},"encoding":{"x":{"field":"xv","type":"quantitative","axis":null},"x2":{"datum":0.032},"y":{"field":"ya","type":"quantitative","axis":null},"y2":{"field":"yb"}}},
  {"transform":[{"filter":"datum.k=='b'"},{"calculate":"-0.032-datum.sd/100","as":"xv"},{"calculate":"datum.r-0.41","as":"ya"},{"calculate":"datum.r+0.41","as":"yb"}],"mark":{"type":"rect","color":"#34506a"},"encoding":{"x":{"field":"xv","type":"quantitative","axis":null},"x2":{"datum":-0.032},"y":{"field":"ya","type":"quantitative","axis":null},"y2":{"field":"yb"}}},
  {"transform":[{"filter":"datum.k=='b'"},{"calculate":"0.032+datum.od/100","as":"xv"},{"calculate":"datum.r-0.41","as":"ya"},{"calculate":"datum.r+0.41","as":"yb"}],"mark":{"type":"rect","color":"#5e3535"},"encoding":{"x":{"field":"xv","type":"quantitative","axis":null},"x2":{"datum":0.032},"y":{"field":"ya","type":"quantitative","axis":null},"y2":{"field":"yb"}}},
  {"transform":[{"filter":"datum.k=='m'"}],"mark":{"type":"rule","color":"#111111","strokeWidth":1.2},"encoding":{"x":{"datum":-0.67,"type":"quantitative","axis":null},"x2":{"datum":0.67},"y":{"field":"ms","type":"quantitative","axis":null},"y2":{"field":"mo"}}},
  {"transform":[{"filter":"datum.k=='m'"},{"calculate":"datum.ms-datum.ss","as":"ya"},{"calculate":"datum.ms+datum.ss","as":"yb"}],"mark":{"type":"rule","color":"#2c6ea6","strokeWidth":1.5},"encoding":{"x":{"datum":-0.67,"type":"quantitative","axis":null},"y":{"field":"ya","type":"quantitative","axis":null},"y2":{"field":"yb"}}},
  {"transform":[{"filter":"datum.k=='m'"},{"calculate":"datum.ms-datum.ss","as":"ya"},{"calculate":"datum.ms+datum.ss","as":"yb"},{"fold":["ya","yb"]}],"mark":{"type":"rule","color":"#2c6ea6","strokeWidth":1.5},"encoding":{"x":{"datum":-0.677,"type":"quantitative","axis":null},"x2":{"datum":-0.65},"y":{"field":"value","type":"quantitative","axis":null}}},
  {"transform":[{"filter":"datum.k=='m'"},{"calculate":"datum.mo-datum.so","as":"ya"},{"calculate":"datum.mo+datum.so","as":"yb"}],"mark":{"type":"rule","color":"#b2393b","strokeWidth":1.5},"encoding":{"x":{"datum":0.67,"type":"quantitative","axis":null},"y":{"field":"ya","type":"quantitative","axis":null},"y2":{"field":"yb"}}},
  {"transform":[{"filter":"datum.k=='m'"},{"calculate":"datum.mo-datum.so","as":"ya"},{"calculate":"datum.mo+datum.so","as":"yb"},{"fold":["ya","yb"]}],"mark":{"type":"rule","color":"#b2393b","strokeWidth":1.5},"encoding":{"x":{"datum":0.677,"type":"quantitative","axis":null},"x2":{"datum":0.65},"y":{"field":"value","type":"quantitative","axis":null}}},
  {"transform":[{"filter":"datum.k=='m'"}],"mark":{"type":"text","align":"right","dx":-3,"fontSize":12,"color":"#222222"},"encoding":{"x":{"datum":-0.67,"type":"quantitative","axis":null},"y":{"field":"ms","type":"quantitative","axis":null},"text":{"field":"ms","type":"quantitative","format":".1f"}}},
  {"transform":[{"filter":"datum.k=='m'"}],"mark":{"type":"text","align":"left","dx":3,"fontSize":12,"color":"#222222"},"encoding":{"x":{"datum":0.67,"type":"quantitative","axis":null},"y":{"field":"mo","type":"quantitative","axis":null},"text":{"field":"mo","type":"quantitative","format":".1f"}}},
  {"transform":[{"filter":"datum.k=='b'"}],"mark":{"type":"text","fontSize":9,"color":"#333333"},"encoding":{"x":{"datum":0,"type":"quantitative","axis":null},"y":{"field":"r","type":"quantitative","axis":null},"text":{"field":"r","type":"nominal"}}},
  {"transform":[{"filter":"datum.k=='m' && datum.d=='A'"}],"mark":{"type":"text","fontSize":18.5,"fontWeight":"bold","color":"#6a8fb0"},"encoding":{"x":{"datum":-0.484,"type":"quantitative","axis":null},"y":{"datum":7.15,"type":"quantitative","axis":null},"text":{"value":"Self"}}},
  {"transform":[{"filter":"datum.k=='m' && datum.d=='A'"}],"mark":{"type":"text","fontSize":18.5,"fontWeight":"bold","color":"#a86464"},"encoding":{"x":{"datum":0.487,"type":"quantitative","axis":null},"y":{"datum":7.15,"type":"quantitative","axis":null},"text":{"value":"Others"}}}
 ]}},
{"data":{"name":"main"},"transform":[{"filter":"datum.w=='18'"}],
 "title":{"text":"Wave 2018","subtitle":"(▼ risk)","dx":131.5,"anchor":"middle","frame":"group"},
 "facet":{"row":{"field":"d","type":"nominal","sort":["A","S","C"],"header":null}},
 "spacing":{"row":20},
 "spec":{"width":241.25,"height":280,"layer":[
  {"transform":[{"filter":"datum.k=='m'"}],"mark":{"type":"rect","fill":"#ffffff","stroke":"#c4c4c4","strokeWidth":1},"encoding":{"x":{"datum":-0.943,"type":"quantitative","scale":{"domain":[-1.1435,0.9543],"nice":false,"zero":false},"axis":null},"x2":{"datum":0.943},"y":{"datum":0.043,"type":"quantitative","scale":{"domain":[-0.15,7.91],"nice":false,"zero":false},"axis":null},"y2":{"datum":7.67}}},
  {"transform":[{"filter":"datum.k=='m'"},{"calculate":"[-0.832,-0.632,-0.432,-0.232,0.232,0.432,0.632,0.832]","as":"gx"},{"flatten":["gx"]}],"mark":{"type":"rule","color":"#cfcfcf","strokeDash":[1.5,1.5],"strokeWidth":0.8},"encoding":{"x":{"field":"gx","type":"quantitative","axis":null},"y":{"datum":0.42,"type":"quantitative","axis":null},"y2":{"datum":7.55}}},
  {"transform":[{"filter":"datum.k=='m'"},{"calculate":"[-0.832,-0.632,-0.432,-0.232,0.232,0.432,0.632,0.832]","as":"gx"},{"flatten":["gx"]},{"calculate":"format(abs(datum.gx)-0.032,'.0%')","as":"pl"}],"mark":{"type":"text","fontSize":8.5,"color":"#333333"},"encoding":{"x":{"field":"gx","type":"quantitative","axis":null},"y":{"datum":0.23,"type":"quantitative","axis":null},"text":{"field":"pl","type":"nominal"}}},
  {"transform":[{"filter":"datum.k=='n'"},{"calculate":"-0.032-datum.s/100","as":"xv"}],"mark":{"type":"area","orient":"horizontal","interpolate":"monotone","color":"#98b8d1"},"encoding":{"y":{"field":"y","type":"quantitative","axis":null},"x":{"field":"xv","type":"quantitative","axis":null},"x2":{"datum":-0.032}}},
  {"transform":[{"filter":"datum.k=='n'"},{"calculate":"0.032+datum.o/100","as":"xv"}],"mark":{"type":"area","orient":"horizontal","interpolate":"monotone","color":"#d69e9e"},"encoding":{"y":{"field":"y","type":"quantitative","axis":null},"x":{"field":"xv","type":"quantitative","axis":null},"x2":{"datum":0.032}}},
  {"transform":[{"filter":"datum.k=='b'"},{"calculate":"-0.032-datum.sg/100","as":"xv"},{"calculate":"datum.r-0.5","as":"ya"},{"calculate":"datum.r+0.5","as":"yb"}],"mark":{"type":"rect","color":"#000000","opacity":0.22},"encoding":{"x":{"field":"xv","type":"quantitative","axis":null},"x2":{"datum":-0.032},"y":{"field":"ya","type":"quantitative","axis":null},"y2":{"field":"yb"}}},
  {"transform":[{"filter":"datum.k=='b'"},{"calculate":"0.032+datum.og/100","as":"xv"},{"calculate":"datum.r-0.5","as":"ya"},{"calculate":"datum.r+0.5","as":"yb"}],"mark":{"type":"rect","color":"#000000","opacity":0.22},"encoding":{"x":{"field":"xv","type":"quantitative","axis":null},"x2":{"datum":0.032},"y":{"field":"ya","type":"quantitative","axis":null},"y2":{"field":"yb"}}},
  {"transform":[{"filter":"datum.k=='b'"},{"calculate":"-0.032-datum.sd/100","as":"xv"},{"calculate":"datum.r-0.41","as":"ya"},{"calculate":"datum.r+0.41","as":"yb"}],"mark":{"type":"rect","color":"#34506a"},"encoding":{"x":{"field":"xv","type":"quantitative","axis":null},"x2":{"datum":-0.032},"y":{"field":"ya","type":"quantitative","axis":null},"y2":{"field":"yb"}}},
  {"transform":[{"filter":"datum.k=='b'"},{"calculate":"0.032+datum.od/100","as":"xv"},{"calculate":"datum.r-0.41","as":"ya"},{"calculate":"datum.r+0.41","as":"yb"}],"mark":{"type":"rect","color":"#5e3535"},"encoding":{"x":{"field":"xv","type":"quantitative","axis":null},"x2":{"datum":0.032},"y":{"field":"ya","type":"quantitative","axis":null},"y2":{"field":"yb"}}},
  {"transform":[{"filter":"datum.k=='m'"}],"mark":{"type":"rule","color":"#111111","strokeWidth":1.2},"encoding":{"x":{"datum":-0.67,"type":"quantitative","axis":null},"x2":{"datum":0.67},"y":{"field":"ms","type":"quantitative","axis":null},"y2":{"field":"mo"}}},
  {"transform":[{"filter":"datum.k=='m'"},{"calculate":"datum.ms-datum.ss","as":"ya"},{"calculate":"datum.ms+datum.ss","as":"yb"}],"mark":{"type":"rule","color":"#2c6ea6","strokeWidth":1.5},"encoding":{"x":{"datum":-0.67,"type":"quantitative","axis":null},"y":{"field":"ya","type":"quantitative","axis":null},"y2":{"field":"yb"}}},
  {"transform":[{"filter":"datum.k=='m'"},{"calculate":"datum.ms-datum.ss","as":"ya"},{"calculate":"datum.ms+datum.ss","as":"yb"},{"fold":["ya","yb"]}],"mark":{"type":"rule","color":"#2c6ea6","strokeWidth":1.5},"encoding":{"x":{"datum":-0.677,"type":"quantitative","axis":null},"x2":{"datum":-0.65},"y":{"field":"value","type":"quantitative","axis":null}}},
  {"transform":[{"filter":"datum.k=='m'"},{"calculate":"datum.mo-datum.so","as":"ya"},{"calculate":"datum.mo+datum.so","as":"yb"}],"mark":{"type":"rule","color":"#b2393b","strokeWidth":1.5},"encoding":{"x":{"datum":0.67,"type":"quantitative","axis":null},"y":{"field":"ya","type":"quantitative","axis":null},"y2":{"field":"yb"}}},
  {"transform":[{"filter":"datum.k=='m'"},{"calculate":"datum.mo-datum.so","as":"ya"},{"calculate":"datum.mo+datum.so","as":"yb"},{"fold":["ya","yb"]}],"mark":{"type":"rule","color":"#b2393b","strokeWidth":1.5},"encoding":{"x":{"datum":0.677,"type":"quantitative","axis":null},"x2":{"datum":0.65},"y":{"field":"value","type":"quantitative","axis":null}}},
  {"transform":[{"filter":"datum.k=='m'"}],"mark":{"type":"text","align":"right","dx":-3,"fontSize":12,"color":"#222222"},"encoding":{"x":{"datum":-0.67,"type":"quantitative","axis":null},"y":{"field":"ms","type":"quantitative","axis":null},"text":{"field":"ms","type":"quantitative","format":".1f"}}},
  {"transform":[{"filter":"datum.k=='m'"}],"mark":{"type":"text","align":"left","dx":3,"fontSize":12,"color":"#222222"},"encoding":{"x":{"datum":0.67,"type":"quantitative","axis":null},"y":{"field":"mo","type":"quantitative","axis":null},"text":{"field":"mo","type":"quantitative","format":".1f"}}},
  {"transform":[{"filter":"datum.k=='b'"}],"mark":{"type":"text","fontSize":9,"color":"#333333"},"encoding":{"x":{"datum":0,"type":"quantitative","axis":null},"y":{"field":"r","type":"quantitative","axis":null},"text":{"field":"r","type":"nominal"}}},
  {"transform":[{"filter":"datum.k=='m' && datum.d=='A'"}],"mark":{"type":"text","fontSize":18.5,"fontWeight":"bold","color":"#6a8fb0"},"encoding":{"x":{"datum":-0.484,"type":"quantitative","axis":null},"y":{"datum":7.15,"type":"quantitative","axis":null},"text":{"value":"Self"}}},
  {"transform":[{"filter":"datum.k=='m' && datum.d=='A'"}],"mark":{"type":"text","fontSize":18.5,"fontWeight":"bold","color":"#a86464"},"encoding":{"x":{"datum":0.487,"type":"quantitative","axis":null},"y":{"datum":7.15,"type":"quantitative","axis":null},"text":{"value":"Others"}}}
 ]}}
]
}
